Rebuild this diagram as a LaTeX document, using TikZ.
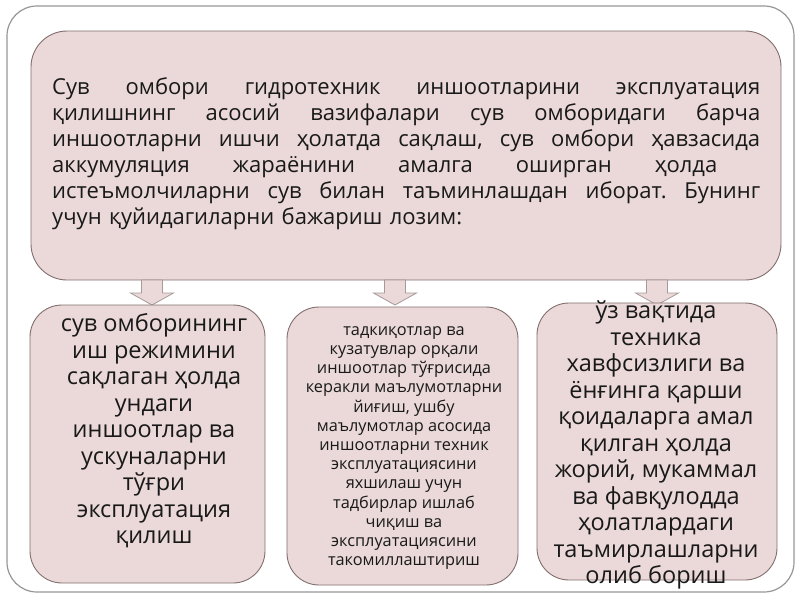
\documentclass[tikz,border=0pt]{standalone}
\usepackage{fontspec}
\setmainfont{Open Sans}
\usetikzlibrary{positioning}

\definecolor{cellfill}{RGB}{234,217,216}
\definecolor{cellline}{RGB}{130,110,110}
\definecolor{framegray}{RGB}{150,150,150}
\definecolor{inkdark}{RGB}{25,25,25}

\newcommand{\jline}[1]{\hbox to 708pt{#1}}

\tikzset{
  cell/.style={draw=cellline, fill=cellfill, rounded corners=32pt, line width=0.9pt, inner sep=0pt},
  blockarrow/.style={draw=cellline!70, fill=cellfill, line width=0.8pt, line join=miter},
  txt/.style={text=inkdark, align=center, inner sep=0pt},
  bigtxt/.style={txt, font=\fontsize{23.5}{26.5}\selectfont},
  smalltxt/.style={txt, font=\fontsize{16.3}{19.2}\selectfont}
}

\begin{document}
\begin{tikzpicture}[x=1pt,y=-1pt]
  \useasboundingbox (0,0) rectangle (800,600);
  % frame
  \draw[framegray, line width=1.2pt, rounded corners=30pt] (7,6) rectangle (794,592);

  % top box
  \node[cell, rounded corners=36pt, minimum width=750pt, minimum height=249pt] (main) at (406,155.5) {};
  \node[txt, anchor=north west, text width=708pt, align=left, font=\fontsize{22}{26}\selectfont] (maintext) at (52,77) {%
    \jline{Сув\hfill омбори\hfill гидротехник\hfill иншоотларини\hfill эксплуатация}
    \jline{қилишнинг\hfill асосий\hfill вазифалари\hfill сув\hfill омборидаги\hfill барча}
    \jline{иншоотларни\hfill ишчи\hfill ҳолатда\hfill сақлаш,\hfill сув\hfill омбори\hfill ҳавзасида}
    \jline{аккумуляция\hfill жараёнини\hfill амалга\hfill оширган\hfill ҳолда\hfill\null}
    \jline{истеъмолчиларни\hfill сув\hfill билан\hfill таъминлашдан\hfill иборат.\hfill Бунинг}
    \jline{учун қуйидагиларни бажариш лозим:\hfill}};

  % block arrows
  \foreach \ax in {152,395,657}
    \draw[blockarrow] (\ax-10.5,280) -- (\ax+10.5,280) -- (\ax+10.5,293) -- (\ax+21.5,293)
      -- (\ax,305) -- (\ax-21.5,293) -- (\ax-10.5,293) -- cycle;

  % lower boxes
  \node[cell, minimum width=235pt, minimum height=278pt] (left) at (147.5,444) {};
  \node[cell, minimum width=231pt, minimum height=278pt] (middle) at (402.5,446) {};
  \node[cell, minimum width=240pt, minimum height=277pt] (right) at (657,441.5) {};

  \node[bigtxt] (lefttext) at (154,431) {сув омборининг\\иш режимини\\сақлаган ҳолда\\ундаги\\иншоотлар ва\\ускуналарни\\тўғри\\эксплуатация\\қилиш};
  \node[smalltxt] (middletext) at (404,448) {тадкиқотлар ва\\кузатувлар орқали\\иншоотлар тўғрисида\\керакли маълумотларни\\йиғиш, ушбу\\маълумотлар асосида\\иншоотларни техник\\эксплуатациясини\\яхшилаш учун\\тадбирлар ишлаб\\чиқиш ва\\эксплуатациясини\\такомиллаштириш};
  \node[bigtxt] (righttext) at (656,445) {ўз вақтида\\техника\\хавфсизлиги ва\\ёнғинга қарши\\қоидаларга амал\\қилган ҳолда\\жорий, мукаммал\\ва фавқулодда\\ҳолатлардаги\\таъмирлашларни\\олиб бориш};
\end{tikzpicture}
\end{document}
